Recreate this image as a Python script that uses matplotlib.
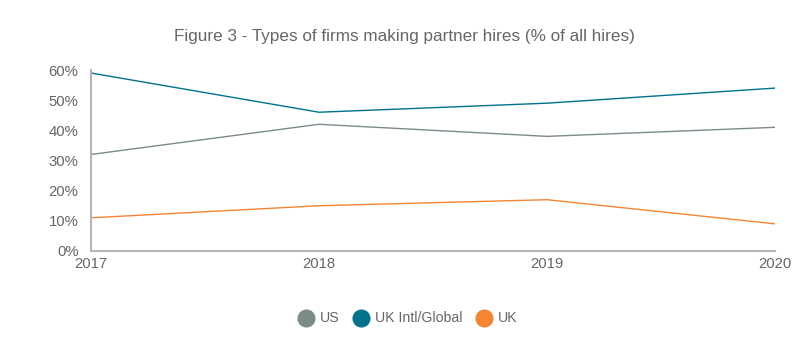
import matplotlib
matplotlib.use("Agg")
import matplotlib.pyplot as plt
from matplotlib.lines import Line2D

plt.rcParams['font.family'] = ['Liberation Sans', 'DejaVu Sans']

years = [2017, 2018, 2019, 2020]
us = [32, 42, 38, 41]
uk_intl = [59, 46, 49, 54]
uk = [11, 15, 17, 9]

series_names = ["US", "UK Intl/Global", "UK"]
colors = ["#7b8b86", "#00728c", "#f58532"]

fig = plt.figure(figsize=(8, 3.5), dpi=100)
ax = fig.add_axes([0.11375, 0.2829, 0.855, 0.5171])

for vals, c in zip([us, uk_intl, uk], colors):
    ax.plot(years, vals, color=c, lw=1.0)

ax.set_xlim(2017, 2020)
ax.set_ylim(0, 60)
ax.set_xticks(years)
ax.set_xticklabels([str(y) for y in years])
ax.set_yticks(range(0, 61, 10))
ax.set_yticklabels([f"{v}%" for v in range(0, 61, 10)])
for s in ["top", "right"]:
    ax.spines[s].set_visible(False)
for s in ["left", "bottom"]:
    ax.spines[s].set_color("#b5b5b5")
    ax.spines[s].set_linewidth(1.5)
ax.tick_params(length=0, labelsize=10.7, colors="#666666")
ax.tick_params(axis='y', pad=9)
ax.tick_params(axis='x', pad=4)

fig.text(0.506, 0.897, "Figure 3 - Types of firms making partner hires (% of all hires)",
         ha="center", va="center", fontsize=12.3, color="#666666")

handles = [Line2D([], [], marker="o", ls="", markersize=12, color=c) for c in colors]
fig.legend(handles, series_names, loc="center", bbox_to_anchor=(0.508, 0.09),
           ncol=3, frameon=False, fontsize=10.2, labelcolor="#666666",
           handletextpad=0.2, columnspacing=0.8, handlelength=1.5)

fig.savefig("out.png", dpi=100)
